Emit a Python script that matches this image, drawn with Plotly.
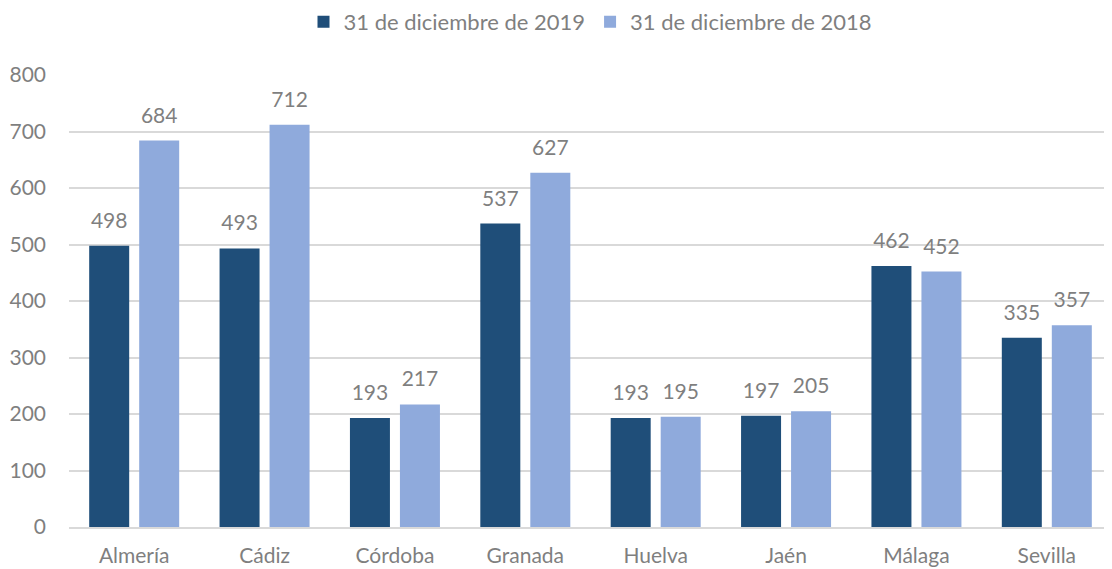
import plotly.graph_objects as go

categories = ["Almería", "Cádiz", "Córdoba", "Granada", "Huelva", "Jaén", "Málaga", "Sevilla"]
values_2019 = [498, 493, 193, 537, 193, 197, 462, 335]
values_2018 = [684, 712, 217, 627, 195, 205, 452, 357]
series_names = ["31 de diciembre de 2019", "31 de diciembre de 2018"]
tick_values = [0, 100, 200, 300, 400, 500, 600, 700, 800]

FONT = "Lato"
GRAY = "#7f7f7f"
FS = 21
label_tpl = '<span style="font-size:21px">%{y}</span><br> '

fig = go.Figure()
for vals, name, color in [(values_2019, series_names[0], "#1F4E79"),
                          (values_2018, series_names[1], "#8FAADC")]:
    fig.add_trace(go.Bar(
        x=categories, y=vals, name=name,
        marker=dict(color=color, line=dict(width=0)),
        texttemplate=label_tpl, textposition="outside",
        textfont=dict(family=FONT, size=10, color=GRAY), cliponaxis=False,
    ))

# page body adds an 8px offset, so the figure is sized to fill the rest of the window
fig.update_layout(
    width=1104, height=561,
    margin=dict(l=61, r=0, t=67, b=42),
    paper_bgcolor="white", plot_bgcolor="white",
    barmode="group", bargap=0.233, bargroupgap=0.2,
    font=dict(family=FONT, size=FS, color=GRAY),
    legend=dict(orientation="h", x=0.5, xanchor="center", y=0.975, yref="container",
                yanchor="middle", font=dict(family=FONT, size=22, color=GRAY),
                itemwidth=30, traceorder="normal"),
    uniformtext=dict(mode=False),
)
fig.update_yaxes(range=[0, 800], tickvals=tick_values, showgrid=True, gridcolor="#d9d9d9",
                 gridwidth=1.5, zeroline=False, showline=False, ticks="",
                 tickfont=dict(family=FONT, size=FS, color=GRAY), ticklabelstandoff=22)
fig.update_xaxes(showline=True, linecolor="#d9d9d9", linewidth=1.5, ticks="",
                 tickfont=dict(family=FONT, size=FS, color=GRAY), ticklabelstandoff=9)

fig.write_html("out.html")
